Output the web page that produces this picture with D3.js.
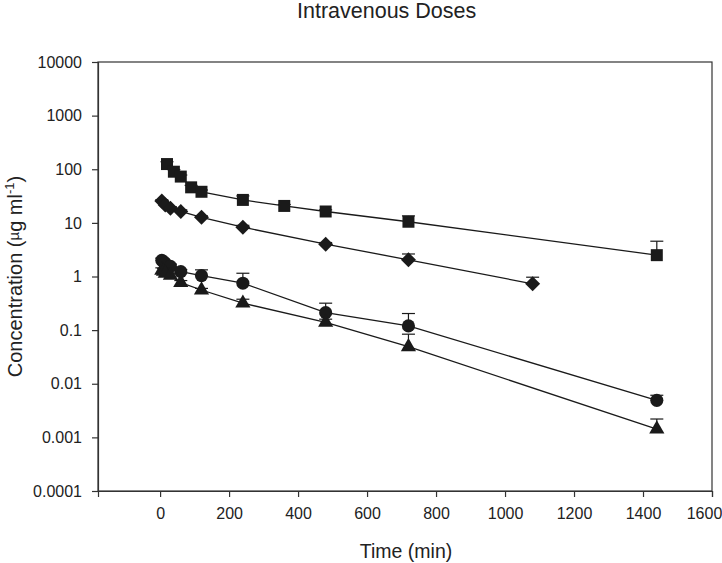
<!DOCTYPE html>
<html>
<head>
<meta charset="utf-8">
<script src="https://cdn.jsdelivr.net/npm/d3@7"></script>
<style>
  html, body { margin: 0; padding: 0; background: #fff; }
  svg { display: block; font-family: "Liberation Sans", Arial, sans-serif; }
</style>
</head>
<body>
<svg id="chart" width="722" height="563"></svg>
<script>
// ---- data ----
const xTicks = [0, 200, 400, 600, 800, 1000, 1200, 1400, 1600];
const yTicks = [0.0001, 0.001, 0.01, 0.1, 1, 10, 100, 1000, 10000];
const yTickLabels = ["0.0001", "0.001", "0.01", "0.1", "1", "10", "100", "1000", "10000"];

const squareTime  = [20, 40, 60, 90, 120, 240, 360, 480, 720, 1440];
const squareConc  = [125, 90, 73, 46, 38, 26.8, 20.7, 16.3, 10.5, 2.5];
const squareUpper = [138, 98, 78, 50, 41, 31.8, 22, 17.5, 13.5, 4.55];

const diamondTime  = [5, 15, 30, 60, 120, 240, 480, 720, 1080];
const diamondConc  = [25.6, 21.6, 18.7, 16.3, 12.7, 8.3, 4.0, 2.05, 0.73];
const diamondUpper = [27, 23, 20, 17.5, 13.5, 9, 4.3, 2.63, 0.97];

const circleTime  = [5, 10, 15, 30, 60, 120, 240, 480, 720, 1440];
const circleConc  = [2.0, 1.9, 1.75, 1.55, 1.23, 1.04, 0.75, 0.212, 0.12, 0.0049];
const circleUpper = [2.2, 2.1, 1.95, 1.7, 1.35, 1.33, 1.15, 0.318, 0.204, 0.0061];

const triangleTime  = [5, 10, 15, 30, 60, 120, 240, 480, 720, 1440];
const triangleConc  = [1.3, 1.25, 1.15, 1.05, 0.77, 0.56, 0.318, 0.14, 0.049, 0.00143];
const triangleUpper = [1.45, 1.4, 1.3, 1.15, 0.84, 0.6, 0.377, 0.16, 0.084, 0.0022];

// ---- layout ----
const svg = d3.select("#chart");
const pLeft = 98, pRight = 712, pTop = 62, pBottom = 491;
const ink = "#1a1a1a";
const axisInk = "#333";

const x = d3.scaleLinear().domain([-180, 1600]).range([pLeft, pRight]);
const y = d3.scaleLog().domain([0.0001, 10000]).range([pBottom, pTop]);

// frame
svg.append("rect")
  .attr("x", pLeft).attr("y", pTop)
  .attr("width", pRight - pLeft).attr("height", pBottom - pTop)
  .attr("fill", "none").attr("stroke", axisInk).attr("stroke-width", 1.2);

// axes
const xAxis = d3.axisBottom(x).tickValues(xTicks).tickSize(6).tickPadding(11).tickFormat(d3.format("d"));
const gx = svg.append("g").attr("transform", `translate(0,${pBottom})`).call(xAxis);
gx.select(".domain").attr("stroke", axisInk).attr("stroke-width", 1.2);
gx.selectAll(".tick line").attr("stroke", axisInk).attr("stroke-width", 1.2);
gx.selectAll(".tick text").attr("fill", "#222").attr("font-size", 16)
  .attr("font-family", "Liberation Sans, Arial, sans-serif");
// last label shifted inward so it stays on the page, as in the reference
gx.selectAll(".tick").filter(d => d === 1600).select("text").attr("dx", -8);

const yAxis = d3.axisLeft(y).tickValues(yTicks).tickSize(6).tickPadding(10)
  .tickFormat((d, i) => yTickLabels[i]);
const gy = svg.append("g").attr("transform", `translate(${pLeft},0)`).call(yAxis);
gy.select(".domain").attr("stroke", axisInk).attr("stroke-width", 1.2);
gy.selectAll(".tick line").attr("stroke", axisInk).attr("stroke-width", 1.2);
gy.selectAll(".tick text").attr("fill", "#222").attr("font-size", 16)
  .attr("font-family", "Liberation Sans, Arial, sans-serif");

// titles
svg.append("text").attr("x", 297).attr("y", 18)
  .attr("font-size", 21.5).attr("fill", "#222")
  .text("Intravenous Doses");

svg.append("text").attr("x", 406).attr("y", 558)
  .attr("text-anchor", "middle").attr("font-size", 19.5).attr("fill", "#222")
  .text("Time (min)");

const yl = svg.append("text")
  .attr("transform", `translate(22,${(pTop + pBottom) / 2}) rotate(-90)`)
  .attr("text-anchor", "middle").attr("font-size", 20).attr("fill", "#222");
yl.append("tspan").text("Concentration (");
yl.append("tspan").attr("font-size", 15).attr("dy", -3).text("\u00B5");
yl.append("tspan").attr("dy", 3).text("g ml");
yl.append("tspan").attr("font-size", 13).attr("dy", -8).text("-1");
yl.append("tspan").attr("dy", 8).text(")");

// ---- series ----
const series = [
  { t: squareTime,   c: squareConc,   u: squareUpper,   sym: d3.symbolSquare,   size: 144, rot: 0 },
  { t: diamondTime,  c: diamondConc,  u: diamondUpper,  sym: d3.symbolSquare,   size: 112, rot: 45 },
  { t: circleTime,   c: circleConc,   u: circleUpper,   sym: d3.symbolCircle,   size: 135, rot: 0 },
  { t: triangleTime, c: triangleConc, u: triangleUpper, sym: d3.symbolTriangle, size: 100, rot: 0 }
];

const line = d3.line().x(d => x(d[0])).y(d => y(d[1]));
const capW = 13;

series.forEach(s => {
  const pts = s.t.map((t, i) => [t, s.c[i], s.u[i]]);
  const g = svg.append("g");
  pts.forEach(p => {
    g.append("line").attr("x1", x(p[0])).attr("x2", x(p[0]))
      .attr("y1", y(p[1])).attr("y2", y(p[2]))
      .attr("stroke", ink).attr("stroke-width", 1.2);
    g.append("line").attr("x1", x(p[0]) - capW / 2).attr("x2", x(p[0]) + capW / 2)
      .attr("y1", y(p[2])).attr("y2", y(p[2]))
      .attr("stroke", ink).attr("stroke-width", 1.2);
  });
  g.append("path").datum(pts).attr("d", line)
    .attr("fill", "none").attr("stroke", ink).attr("stroke-width", 1.3);
  const sym = d3.symbol().type(s.sym).size(s.size);
  g.selectAll("path.m").data(pts).join("path").attr("class", "m")
    .attr("d", sym)
    .attr("transform", p => `translate(${x(p[0])},${y(p[1])}) rotate(${s.rot})`)
    .attr("fill", ink);
});
</script>
</body>
</html>
